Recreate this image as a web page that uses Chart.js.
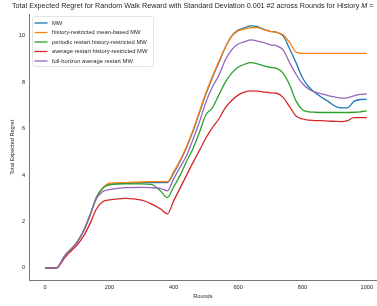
<!DOCTYPE html>
<html>
<head>
<meta charset="utf-8">
<script src="https://cdn.jsdelivr.net/npm/chart.js@4.4.1/dist/chart.umd.min.js"></script>
<style>
    html, body { margin: 0; padding: 0; background: #fff; }
    #wrap { width: 377px; height: 306px; }
</style>
</head>
<body>
<div id="wrap"><canvas id="regretChart" width="377" height="306"></canvas></div>
<script>
const rounds = [0, 20, 36, 50, 60, 80, 100, 120, 140, 160, 180, 200, 250, 300, 330, 360, 380, 400, 420, 440,
    460, 480, 500, 520, 540, 560, 580, 600, 620, 640, 660, 680, 700, 720, 740, 760, 780, 800, 820, 840,
    860, 880, 900, 920, 940, 960, 980, 1000];

const mw = [0, 0, 0, 0.25, 0.5, 0.8, 1.12, 1.6, 2.28, 3.05, 3.45, 3.6, 3.65, 3.67, 3.68, 3.68, 3.68, 4.1, 4.6, 5.2,
    5.9, 6.7, 7.5, 8.2, 8.85, 9.5, 10.0, 10.25, 10.35, 10.43, 10.4, 10.28, 10.2, 10.15, 10.0, 9.45, 8.85, 8.2, 7.8, 7.55,
    7.35, 7.18, 6.98, 6.9, 6.9, 7.18, 7.26, 7.27];

const meanBased = [0, 0, 0, 0.25, 0.5, 0.8, 1.12, 1.6, 2.28, 3.05, 3.45, 3.65, 3.68, 3.71, 3.72, 3.72, 3.72, 4.15, 4.65, 5.25,
    5.95, 6.75, 7.55, 8.25, 8.9, 9.5, 9.98, 10.22, 10.3, 10.36, 10.36, 10.27, 10.2, 10.15, 10.05, 9.72, 9.3, 9.25, 9.25, 9.25,
    9.25, 9.25, 9.25, 9.25, 9.25, 9.25, 9.25, 9.25];

const periodicRestart = [0, 0, 0, 0.25, 0.5, 0.8, 1.12, 1.6, 2.28, 3.05, 3.45, 3.58, 3.62, 3.62, 3.6, 3.3, 3.03, 3.5, 4.0, 4.6,
    5.15, 5.85, 6.6, 6.9, 7.45, 8.0, 8.4, 8.65, 8.78, 8.85, 8.8, 8.71, 8.65, 8.6, 8.4, 7.9, 7.2, 6.82, 6.73, 6.71,
    6.7, 6.7, 6.7, 6.7, 6.7, 6.71, 6.73, 6.77];

const averageRestart = [0, 0, 0, 0.22, 0.42, 0.72, 1.0, 1.38, 1.92, 2.55, 2.86, 2.93, 3.0, 2.92, 2.76, 2.53, 2.33, 2.9, 3.45, 4.0,
    4.55, 5.07, 5.6, 6.05, 6.42, 6.9, 7.22, 7.45, 7.58, 7.63, 7.62, 7.58, 7.55, 7.53, 7.35, 6.95, 6.55, 6.42, 6.37, 6.35,
    6.35, 6.33, 6.32, 6.31, 6.35, 6.48, 6.48, 6.48];

const fullHorizon = [0, 0, 0, 0.25, 0.5, 0.8, 1.12, 1.6, 2.28, 3.0, 3.3, 3.38, 3.46, 3.47, 3.46, 3.42, 3.32, 3.85, 4.35, 4.85,
    5.55, 6.3, 7.15, 7.8, 8.3, 8.95, 9.4, 9.65, 9.75, 9.83, 9.78, 9.71, 9.62, 9.57, 9.4, 8.85, 8.35, 7.95, 7.7, 7.58,
    7.5, 7.43, 7.37, 7.32, 7.33, 7.42, 7.48, 7.5];

const xTicks = [0, 200, 400, 600, 800, 1000];
const yTicks = [0, 2, 4, 6, 8, 10];

const titleText = "Total Expected Regret for Random Walk Reward with Standard Deviation 0.001 #2 across Rounds for History ";
const fontFamily = '"Liberation Sans", Arial, sans-serif';
const textColor = "#262626";

function createSeries(label, values, color, order) {
    return {
        label,
        data: values.map((y, i) => ({ x: rounds[i], y })),
        borderColor: color,
        backgroundColor: color,
        borderWidth: 1.3,
        pointRadius: 0,
        fill: false,
        cubicInterpolationMode: "monotone",
        order,
    };
}

const datasets = [
    createSeries("MW", mw, "#1f77b4", 5),
    createSeries("history-restricted mean-based MW", meanBased, "#ff7f0e", 4),
    createSeries("periodic restart history-restricted MW", periodicRestart, "#2ca02c", 3),
    createSeries("average restart history-restricted MW", averageRestart, "#d62728", 2),
    createSeries("full-horizon average restart MW", fullHorizon, "#9467bd", 1),
];

// title and in-plot legend drawn by hand, like matplotlib does
const overlayPlugin = {
    id: "overlay",
    afterDraw(chart) {
        const ctx = chart.ctx;
        ctx.save();
        ctx.fillStyle = textColor;
        ctx.textBaseline = "middle";
        ctx.font = `7.2px ${fontFamily}`;
        let x = 12;
        ctx.fillText(titleText, x, 6);
        x += ctx.measureText(titleText).width;
        ctx.font = `italic 7.2px ${fontFamily}`;
        ctx.fillText("M", x, 6);
        x += ctx.measureText("M").width;
        ctx.font = `7.2px ${fontFamily}`;
        ctx.fillText(" =", x, 6);

        const box = { left: 32.5, top: 16.5, width: 121, height: 50 };
        ctx.fillStyle = "rgba(255,255,255,0.8)";
        ctx.strokeStyle = "#dddddd";
        ctx.lineWidth = 0.8;
        ctx.beginPath();
        ctx.roundRect(box.left, box.top, box.width, box.height, 2);
        ctx.fill();
        ctx.stroke();

        ctx.font = `5.8px ${fontFamily}`;
        chart.data.datasets.forEach((ds, i) => {
            const y = 23 + i * 9.5;
            ctx.strokeStyle = ds.borderColor;
            ctx.lineWidth = 1.3;
            ctx.beginPath();
            ctx.moveTo(34.5, y);
            ctx.lineTo(47.5, y);
            ctx.stroke();
            ctx.fillStyle = textColor;
            ctx.fillText(ds.label, 52, y);
        });
        ctx.restore();
    },
};

new Chart(document.getElementById("regretChart"), {
    type: "line",
    data: { datasets },
    plugins: [overlayPlugin],
    options: {
        responsive: false,
        animation: false,
        devicePixelRatio: 1,
        layout: { padding: { top: 14.6, right: 0, left: 0, bottom: 0 } },
        plugins: { legend: { display: false }, tooltip: { enabled: false } },
        scales: {
            x: {
                type: "linear",
                min: -50,
                max: 1031,
                grid: { display: false, drawTicks: false },
                border: { display: true, color: "#777", width: 1 },
                afterBuildTicks: (scale) => { scale.ticks = xTicks.map((value) => ({ value })); },
                afterFit: (scale) => { scale.height = 26; },
                ticks: {
                    color: textColor,
                    font: { family: fontFamily, size: 5.6 },
                    padding: 4,
                    maxRotation: 0,
                    callback: (value) => String(value),
                },
                title: { display: true, text: "Rounds", color: textColor, font: { family: fontFamily, size: 5.6 }, padding: { top: 0, bottom: 6 } },
            },
            y: {
                type: "linear",
                min: -0.52,
                max: 10.92,
                grid: { display: false, drawTicks: false },
                border: { display: true, color: "#777", width: 1 },
                afterBuildTicks: (scale) => { scale.ticks = yTicks.map((value) => ({ value })); },
                afterFit: (scale) => { scale.width = 29; },
                ticks: { color: textColor, font: { family: fontFamily, size: 5.6 }, padding: 4, callback: (value) => String(value) },
                title: { display: true, text: "Total Expected Regret", color: textColor, font: { family: fontFamily, size: 5.6 }, padding: { top: 9, bottom: 0 } },
            },
        },
    },
});
</script>
</body>
</html>
